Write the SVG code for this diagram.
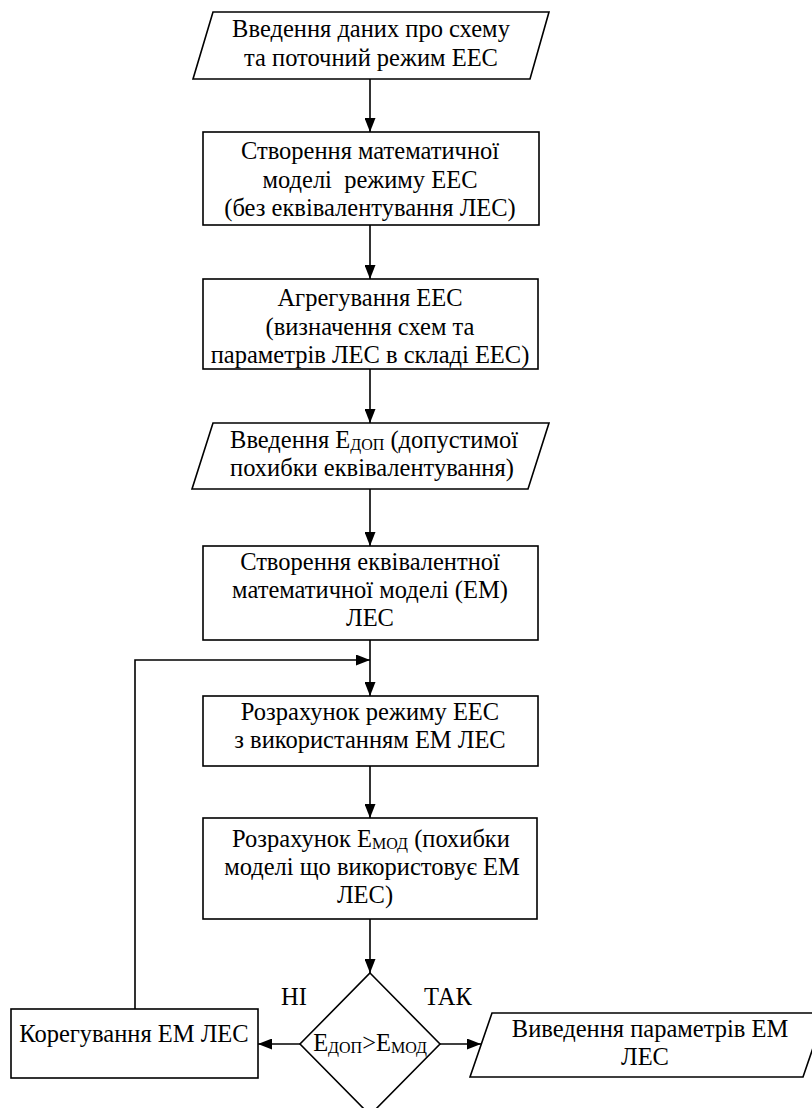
<svg xmlns="http://www.w3.org/2000/svg" width="812" height="1108" viewBox="0 0 812 1108">
<style>
.shape{fill:#fff;stroke:#000;stroke-width:1.6}
.conn{fill:none;stroke:#000;stroke-width:1.6}
.t{font-family:'Liberation Serif','Times New Roman',serif;font-size:24.5px;fill:#000;text-anchor:middle}
.sub{font-size:16px}
</style>
<defs>
<marker id="arr" markerUnits="userSpaceOnUse" markerWidth="14" markerHeight="11" refX="14" refY="5.5" orient="auto">
<path d="M0,0 L14,5.5 L0,11 Z" fill="#000"/>
</marker>
</defs>
<rect width="812" height="1108" fill="#fff"/>
<g id="connectors">
<line class="conn" x1="370" y1="79" x2="370" y2="132" marker-end="url(#arr)"/>
<line class="conn" x1="370" y1="225" x2="370" y2="279" marker-end="url(#arr)"/>
<line class="conn" x1="370" y1="369" x2="370" y2="423" marker-end="url(#arr)"/>
<line class="conn" x1="370" y1="489" x2="370" y2="546" marker-end="url(#arr)"/>
<line class="conn" x1="370" y1="640" x2="370" y2="696" marker-end="url(#arr)"/>
<polyline class="conn" points="135,1009 135,660 370,660" marker-end="url(#arr)"/>
<line class="conn" x1="370" y1="766" x2="370" y2="818" marker-end="url(#arr)"/>
<line class="conn" x1="370" y1="919" x2="370" y2="973" marker-end="url(#arr)"/>
<line class="conn" x1="300" y1="1044" x2="258" y2="1044" marker-end="url(#arr)"/>
<line class="conn" x1="440" y1="1044" x2="481" y2="1044" marker-end="url(#arr)"/>
</g>
<g id="n1">
<polygon class="shape" points="213,12 549,12 530,79 193,79"/>
<text class="t" x="371" y="37">Введення даних про схему</text>
<text class="t" x="371" y="66">та поточний режим ЕЕС</text>
</g>
<g id="n2">
<rect class="shape" x="203" y="132" width="336" height="93"/>
<text class="t" x="370" y="159">Створення математичної</text>
<text class="t" x="370" y="188" xml:space="preserve">моделі  режиму ЕЕС</text>
<text class="t" x="370" y="216">(без еквівалентування ЛЕС)</text>
</g>
<g id="n3">
<rect class="shape" x="203" y="279" width="335" height="90"/>
<text class="t" x="370" y="306">Агрегування ЕЕС</text>
<text class="t" x="370" y="335">(визначення схем та</text>
<text class="t" x="370" y="363">параметрів ЛЕС в складі ЕЕС)</text>
</g>
<g id="n4">
<polygon class="shape" points="213,423 549,423 528,489 192,489"/>
<text class="t" x="374" y="448">Введення Е<tspan class="sub" dy="2">ДОП</tspan><tspan dy="-2"> (допустимої</tspan></text>
<text class="t" x="372" y="476">похибки еквівалентування)</text>
</g>
<g id="n5">
<rect class="shape" x="203" y="546" width="335" height="94"/>
<text class="t" x="370" y="570">Створення еквівалентної</text>
<text class="t" x="370" y="598">математичної моделі (ЕМ)</text>
<text class="t" x="370" y="626">ЛЕС</text>
</g>
<g id="n6">
<rect class="shape" x="203" y="696" width="335" height="70"/>
<text class="t" x="370" y="720">Розрахунок режиму ЕЕС</text>
<text class="t" x="370" y="748">з використанням ЕМ ЛЕС</text>
</g>
<g id="n7">
<rect class="shape" x="203" y="818" width="334" height="101"/>
<text class="t" x="371" y="847">Розрахунок Е<tspan class="sub" dy="2">МОД</tspan><tspan dy="-2"> (похибки</tspan></text>
<text class="t" x="372" y="875">моделі що використовує ЕМ</text>
<text class="t" x="365" y="903">ЛЕС)</text>
</g>
<g id="n8">
<polygon class="shape" points="370,973 440,1044 370,1115 300,1044"/>
<text class="t" x="370" y="1051">Е<tspan class="sub" dy="2">ДОП</tspan><tspan dy="-2">&gt;Е</tspan><tspan class="sub" dy="2">МОД</tspan></text>
</g>
<g id="n9">
<rect class="shape" x="11" y="1009" width="247" height="69"/>
<text class="t" x="134" y="1042">Корегування ЕМ ЛЕС</text>
</g>
<g id="n10">
<polygon class="shape" points="492,1013 825,1013 803,1077 470,1077"/>
<text class="t" x="650" y="1037">Виведення параметрів ЕМ</text>
<text class="t" x="645" y="1065">ЛЕС</text>
</g>
<g id="labels">
<text class="t" x="294" y="1005">НІ</text>
<text class="t" x="448" y="1005">ТАК</text>
</g>
</svg>
